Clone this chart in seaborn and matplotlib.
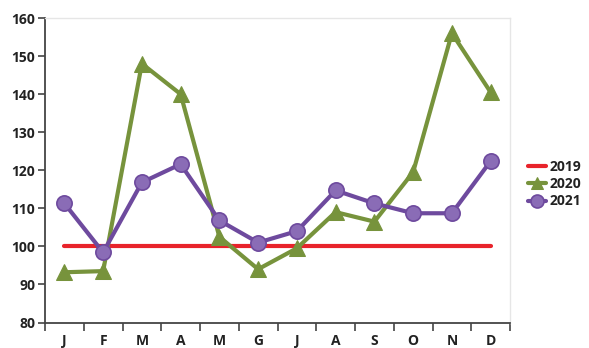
import matplotlib
matplotlib.use("Agg")
import matplotlib.pyplot as plt
import seaborn as sns
import pandas as pd
import numpy as np

months = ["J", "F", "M", "A", "M", "G", "J", "A", "S", "O", "N", "D"]
values_2019 = [100, 100, 100, 100, 100, 100, 100, 100, 100, 100, 100, 100]
values_2020 = [93.2, 93.5, 148, 140, 102.5, 94, 99.5, 109, 106.5, 119.5, 156, 140.5]
values_2021 = [111.3, 98.4, 116.8, 121.6, 106.8, 101, 104, 114.7, 111.3, 108.7, 108.7, 122.4]
y_ticks = [80, 90, 100, 110, 120, 130, 140, 150, 160]

sns.set_theme(style="white")
plt.rcParams["font.family"] = ["Open Sans", "DejaVu Sans"]

pos = np.arange(len(months))
df = pd.DataFrame({
    "pos": np.tile(pos, 3),
    "value": values_2019 + values_2020 + values_2021,
    "year": ["2019"] * 12 + ["2020"] * 12 + ["2021"] * 12,
})

fig = plt.figure(figsize=(5.89, 3.48), dpi=100)
ax = fig.add_axes([45 / 589, 1 - 322.5 / 348, (510 - 45) / 589, (322.5 - 18) / 348])

red = "#e8232b"
green = "#77933c"
purple_line = "#6e4a9e"
purple_fill = "#8a6cb6"

sns.lineplot(data=df[df.year == "2019"], x="pos", y="value", ax=ax,
             color=red, lw=3, label="2019")
sns.lineplot(data=df[df.year == "2020"], x="pos", y="value", ax=ax,
             color=green, lw=3, marker="^", markersize=11,
             markeredgecolor=green, markerfacecolor=green, label="2020")
sns.lineplot(data=df[df.year == "2021"], x="pos", y="value", ax=ax,
             color=purple_line, lw=3, marker="o", markersize=11,
             markeredgecolor=purple_line, markerfacecolor=purple_fill,
             markeredgewidth=1.2, label="2021")

ax.set_xlim(-0.5, 11.5)
ax.set_ylim(80, 160)
ax.set_yticks(y_ticks)
ax.set_yticklabels([str(t) for t in y_ticks], fontsize=10, fontweight="bold",
                   color="#222222")
ax.set_xticks(pos)
ax.set_xticklabels(months, fontsize=10, fontweight="bold", color="#222222")
ax.set_xticks(np.arange(-0.5, 12, 1), minor=True)
ax.tick_params(axis="x", which="major", length=0, pad=8)
ax.tick_params(axis="x", which="minor", length=6, width=1.2, color="#444444",
               direction="out", bottom=True)
ax.tick_params(axis="y", length=5, width=1.2, color="#444444", direction="out",
               left=True, pad=2)
ax.set_xlabel("")
ax.set_ylabel("")

for side in ["left", "bottom"]:
    ax.spines[side].set_color("#444444")
    ax.spines[side].set_linewidth(1.3)
for side in ["top", "right"]:
    ax.spines[side].set_color("#e6e6e6")
    ax.spines[side].set_linewidth(1.0)

ax.legend_.remove()
handles, labels = ax.get_legend_handles_labels()
leg = fig.legend(handles, labels, loc="center left",
                 bbox_to_anchor=(522 / 589, 1 - 184 / 348),
                 frameon=False, handlelength=1.3, handletextpad=0.3,
                 labelspacing=0.25, borderaxespad=0, markerscale=0.85,
                 prop={"size": 10, "weight": "bold"})
for t in leg.get_texts():
    t.set_color("#222222")

fig.savefig("out.png", dpi=100)
